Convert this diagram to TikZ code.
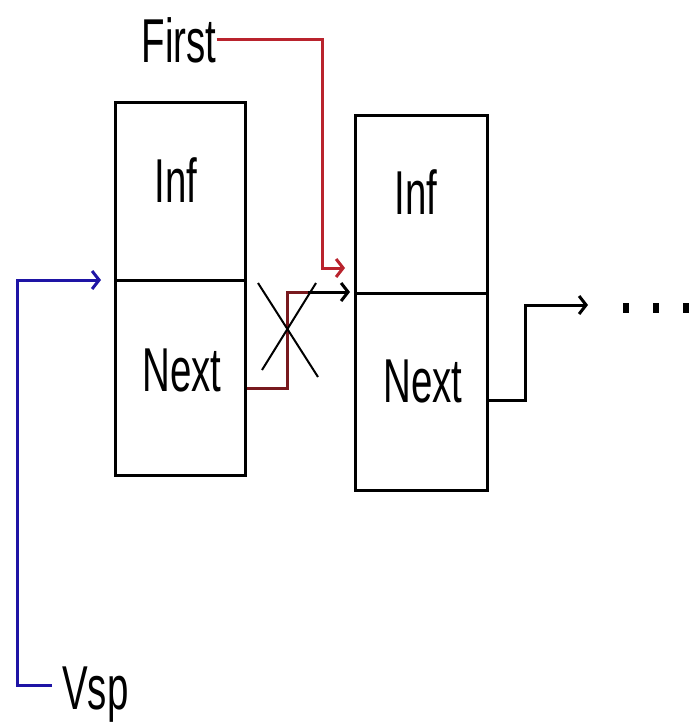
\documentclass[tikz,border=0pt]{standalone}
\usepackage{fontspec}
\setmainfont{Liberation Sans}
\usepackage{graphicx}
\usetikzlibrary{arrows.meta}
\definecolor{lnred}{RGB}{185,35,45}
\definecolor{lnblue}{RGB}{30,20,165}
\definecolor{lndark}{RGB}{120,25,30}
\tikzset{
  cell/.style={draw=black, line width=3pt, rectangle, inner sep=0pt},
  lbl/.style={inner sep=0pt, font=\fontsize{62}{62}\selectfont},
  link/.style={line width=3pt},
  tip/.style={-{Straight Barb[length=7pt,width=18pt,line width=3pt]}},
  dot/.style={fill=black, draw=none, minimum width=6pt, minimum height=10pt, inner sep=0pt, rectangle}
}
\newcommand{\nar}[1]{\scalebox{0.62}[1]{#1}}
\begin{document}
\begin{tikzpicture}[x=1pt,y=-1pt]
\useasboundingbox (0,0) rectangle (691,725);
% boxes
\node[cell, minimum width=130pt, minimum height=178pt] (b1inf) at (180,191) {};
\node[cell, minimum width=130pt, minimum height=195pt] (b1next) at (180,377.5) {};
\node[cell, minimum width=132pt, minimum height=178pt] (b2inf) at (421,204) {};
\node[cell, minimum width=132pt, minimum height=197pt] (b2next) at (421,391.5) {};
% labels
\node[lbl] (t1inf) at (176,180) {\nar{Inf}};
\node[lbl] (t1next) at (182,370) {\nar{Next}};
\node[lbl] (t2inf) at (416,192) {\nar{Inf}};
\node[lbl] (t2next) at (423,381) {\nar{Next}};
\node[lbl] (first) at (179,40) {\nar{First}};
\node[lbl, anchor=west] (vsp) at (62,695) {\nar{Vsp}};
% coordinates
\coordinate (ftip) at (345,268);
\coordinate (vtip) at (101,280);
\coordinate (otip) at (350,292);
\coordinate (ntip) at (588,305);
% First pointer (red)
\draw[link, lnred, tip] (first.east |- 0,40) -- (322,40) -- (322,268) -- (ftip);
% Vsp pointer (blue)
\draw[link, lnblue, tip] (52,685) -- (17,685) -- (17,280) -- (vtip);
% old next link
\draw[link, lndark] (b1next.east |- 0,388) -- (287,388) -- (287,292) -- (310,292);
\draw[link, black, tip] (308,292) -- (otip);
% cross
\coordinate (c1) at (258,283);
\coordinate (c2) at (318,377);
\coordinate (c3) at (262,370);
\coordinate (c4) at (316,283);
\draw[line width=2pt] (c1) -- (c2);
\draw[line width=2pt] (c3) -- (c4);
% new next link
\draw[link, tip] (b2next.east |- 0,400) -- (525,400) -- (525,305) -- (ntip);
% dots
\node[dot] (d1) at (626,308) {};
\node[dot] (d2) at (656,308) {};
\node[dot] (d3) at (686,308) {};
\end{tikzpicture}
\end{document}
